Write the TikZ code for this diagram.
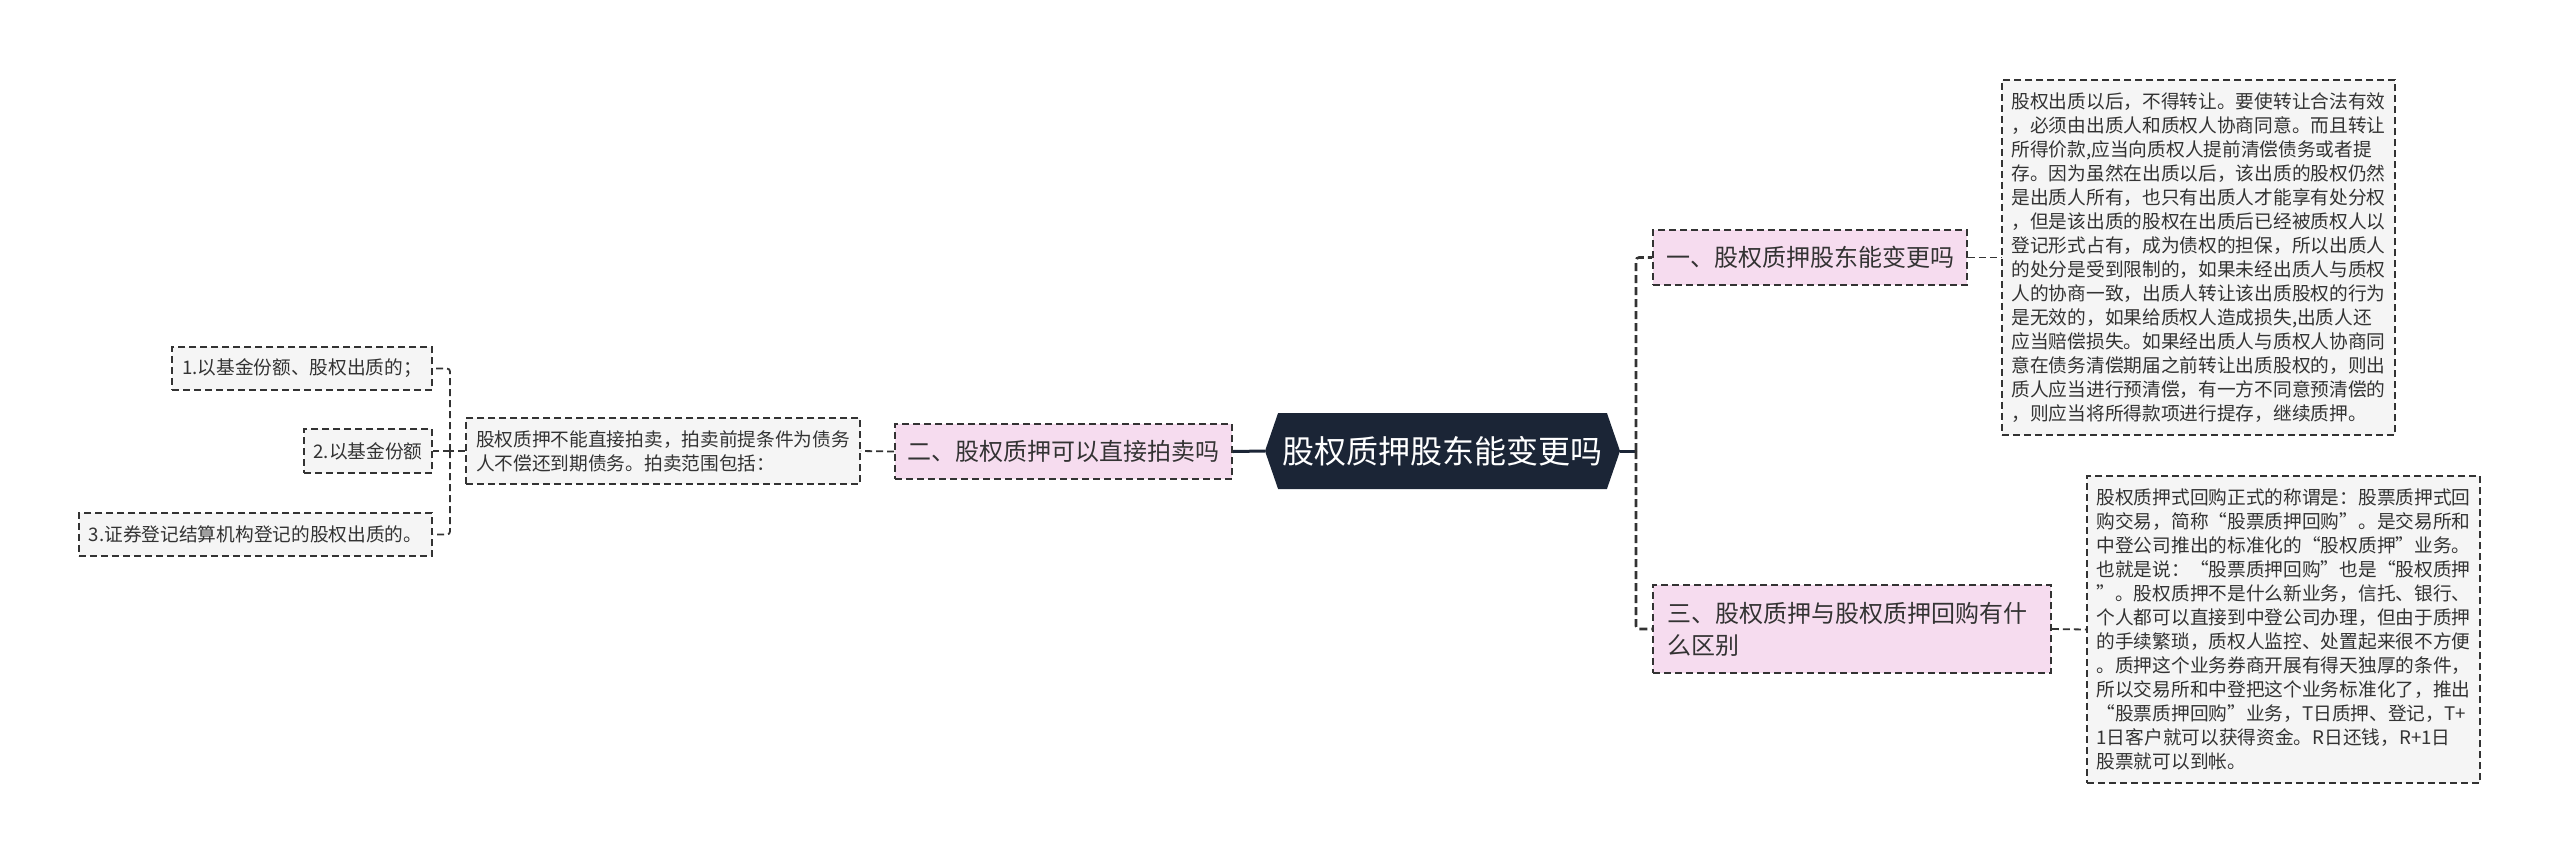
\documentclass[tikz,border=0pt]{standalone}
\usepackage{fontspec}
\setmainfont{Noto Sans CJK SC}
\usetikzlibrary{shapes.symbols}
\definecolor{linec}{HTML}{333333}
\definecolor{textc}{HTML}{333333}
\definecolor{greyf}{HTML}{F5F5F5}
\definecolor{pinkf}{HTML}{F6DCEF}
\definecolor{rootc}{HTML}{1B2536}
\tikzset{
  detailbox/.style={draw=linec, dash pattern=on 7pt off 4pt, line width=1.8pt, fill=greyf, text=textc,
    font=\fontsize{18.7}{24}\selectfont, inner sep=0pt, align=left},
  topicbox/.style={draw=linec, dash pattern=on 7pt off 4pt, line width=1.8pt, fill=pinkf, text=textc,
    font=\fontsize{24}{32}\selectfont, inner sep=0pt, align=left},
  conn/.style={draw=linec, dash pattern=on 7pt off 4pt, line width=1.8pt, rounded corners=3pt},
  mainconn/.style={draw=linec, dash pattern=on 8pt off 4pt, line width=2.6pt, rounded corners=3pt},
  trunk/.style={draw=rootc, line width=3pt},
}
\begin{document}
\begin{tikzpicture}[x=1pt,y=-1pt]
\useasboundingbox (0,0) rectangle (2560,863);

% root
\node[signal, signal to=west and east, signal pointer angle=142, fill=rootc, text=white,
  minimum width=355pt, minimum height=76pt, inner sep=0pt,
  font=\fontsize{32}{38}\selectfont] (root) at (1442.5,451) {股权质押股东能变更吗};

% topics
\node[topicbox, minimum width=314pt, minimum height=55pt] (n1) at (1810,257.5) {一、股权质押股东能变更吗};
\node[topicbox, minimum width=337pt, minimum height=55pt] (n2) at (1063.5,451.5) {二、股权质押可以直接拍卖吗};
\node[topicbox, minimum width=398pt, minimum height=88pt, text width=370pt] (n3) at (1852,629) {三、股权质押与股权质押回购有什\\么区别};

% details right
\node[detailbox, minimum width=393pt, minimum height=355pt, text width=374pt] (b1) at (2198.5,257.5) {股权出质以后，不得转让。要使转让合法有效\\
，必须由出质人和质权人协商同意。而且转让\\
所得价款,应当向质权人提前清偿债务或者提\\
存。因为虽然在出质以后，该出质的股权仍然\\
是出质人所有，也只有出质人才能享有处分权\\
，但是该出质的股权在出质后已经被质权人以\\
登记形式占有，成为债权的担保，所以出质人\\
的处分是受到限制的，如果未经出质人与质权\\
人的协商一致，出质人转让该出质股权的行为\\
是无效的，如果给质权人造成损失,出质人还\\
应当赔偿损失。如果经出质人与质权人协商同\\
意在债务清偿期届之前转让出质股权的，则出\\
质人应当进行预清偿，有一方不同意预清偿的\\
，则应当将所得款项进行提存，继续质押。};

\node[detailbox, minimum width=393pt, minimum height=307pt, text width=374pt] (b3) at (2283.5,629.5) {股权质押式回购正式的称谓是：股票质押式回\\
购交易，简称“股票质押回购”。是交易所和\\
中登公司推出的标准化的“股权质押”业务。\\
也就是说：“股票质押回购”也是“股权质押\\
”。股权质押不是什么新业务，信托、银行、\\
个人都可以直接到中登公司办理，但由于质押\\
的手续繁琐，质权人监控、处置起来很不方便\\
。质押这个业务券商开展有得天独厚的条件，\\
所以交易所和中登把这个业务标准化了，推出\\
“股票质押回购”业务，T日质押、登记，T+\\
1日客户就可以获得资金。R日还钱，R+1日\\
股票就可以到帐。};

% details left
\node[detailbox, minimum width=394pt, minimum height=66pt, text width=374pt] (d2) at (663,451) {股权质押不能直接拍卖，拍卖前提条件为债务\\
人不偿还到期债务。拍卖范围包括：};
\node[detailbox, anchor=east, minimum width=260pt, minimum height=43pt] (i1) at (433,368.5) {1.以基金份额、股权出质的；};
\node[detailbox, anchor=east, minimum width=128pt, minimum height=44pt] (i2) at (433,451) {2.以基金份额};
\node[detailbox, anchor=east, minimum width=353pt, minimum height=43pt] (i3) at (433,534.5) {3.证券登记结算机构登记的股权出质的。};

% connectors
\coordinate (j1) at (1636,451);
\coordinate (j2) at (450,451);
\draw[trunk] (n2.east) -- (root.west);
\draw[trunk] (root.east) -- (j1);
\draw[mainconn] (j1) |- (n1.west);
\draw[mainconn] (j1) |- (n3.west);
\draw[conn] (n1.east) -- (b1.west);
\draw[conn] (n3.east) -- (b3.west);
\draw[conn] (n2.west) -- (d2.east);
\draw[conn] (d2.west) -- (j2);
\draw[conn] (j2) |- (i1.east);
\draw[conn] (j2) |- (i3.east);
\draw[conn] (j2) -- (i2.east);
\end{tikzpicture}
\end{document}
